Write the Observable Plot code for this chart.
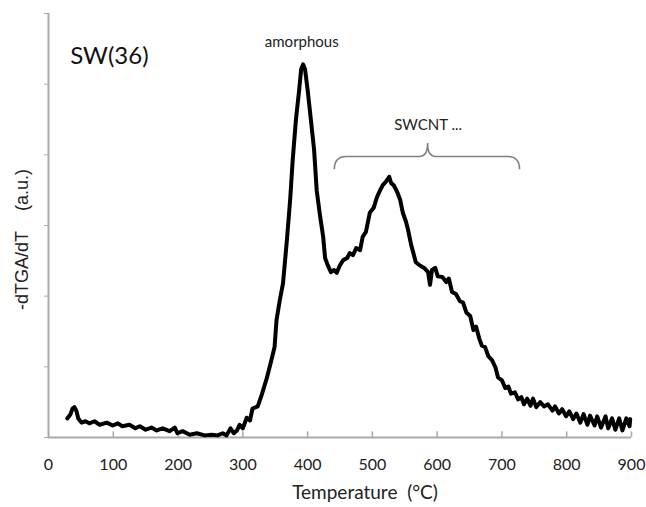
<!DOCTYPE html>
<html>
<head>
<meta charset="utf-8">
<script src="https://cdn.jsdelivr.net/npm/d3@7"></script>
<script src="https://cdn.jsdelivr.net/npm/@observablehq/plot@0.6"></script>
<style>
  html, body { margin: 0; padding: 0; background: #fff; }
  #chart { width: 646px; height: 507px; }
</style>
</head>
<body>
<div id="chart"></div>
<script>
// ---- data ----
const temperature = [29,34,37,40,43,46,51,57,63,71,79,90,99,107,114,125,134,141,150,159,167,176,187,195,199,207,218,229,241,252,261,269,275,281,286,291,295,
  300,306,311,315,323,329,337,345,349,352,357,362,368,373,377,382,387,390,393,396,400,405,410,414,419,424,427,431,436,441,445,450,455,461,465,470,475,481,485,490,496,502,507,512,516,521,526,529,533,538,543,547,552,555,560,563,567,574,580,586,589,592,597,601,608,614,618,623,629,635,640,645,651,656,660,665,669,674,679,685,690,694,700,705,710,714,720,725,730,734,739,744,748,753,759,765,771,778,782,788,793,799,804,810,815,821,826,832,836,843,847,853,860,864,870,875,881,886,892,897,898];
const dtga = [0.27,0.33,0.41,0.43,0.38,0.27,0.21,0.23,0.20,0.23,0.18,0.21,0.17,0.20,0.16,0.18,0.13,0.16,0.11,0.14,0.10,0.13,0.09,0.14,0.06,0.09,0.04,0.06,0.03,0.04,0.03,0.06,0.03,0.13,0.06,0.10,0.18,
  0.13,0.28,0.24,0.41,0.44,0.60,0.84,1.13,1.28,1.66,1.94,2.18,2.79,3.36,3.93,4.50,4.92,5.21,5.28,5.21,4.92,4.50,4.07,3.50,3.15,2.84,2.54,2.44,2.34,2.37,2.33,2.44,2.51,2.54,2.61,2.58,2.68,2.65,2.84,2.91,3.18,3.25,3.40,3.50,3.57,3.62,3.69,3.60,3.57,3.48,3.36,3.18,3.05,2.94,2.72,2.62,2.48,2.43,2.40,2.34,2.16,2.37,2.40,2.28,2.27,2.20,2.25,2.06,2.03,1.93,1.91,1.77,1.72,1.52,1.57,1.40,1.30,1.28,1.15,1.09,0.99,0.85,0.81,0.70,0.72,0.62,0.64,0.54,0.57,0.47,0.55,0.45,0.55,0.43,0.50,0.44,0.47,0.38,0.44,0.34,0.40,0.30,0.37,0.26,0.34,0.21,0.33,0.18,0.31,0.17,0.30,0.14,0.30,0.13,0.27,0.11,0.27,0.10,0.27,0.16,0.26];

const xTicks = [0,100,200,300,400,500,600,700,800,900];
const yTicks = [0,1,2,3,4,5,6];

// annotations
const titleText = ["SW(36)"];
const titleX = [94], titleY = [5.39];
const amorphText = ["amorphous"];
const amorphX = [391], amorphY = [5.59];
const swcntText = ["SWCNT ..."];
const swcntX = [586], swcntY = [4.42];
// curly brace: [left T, middle T, right T], [end y, line y, cusp y]
const braceT = [442, 586, 728];
const braceY = [3.79, 3.97, 4.16];

const xLabel = "Temperature\u00A0\u00A0(°C)";
const yLabel = "-dTGA/dT\u00A0\u00A0\u00A0\u00A0(a.u.)";

const data = temperature.map((t, i) => ({t, v: dtga[i]}));

function braceMark(index, scales) {
  const x = scales.x, y = scales.y;
  const x0 = x(braceT[0]), xm = x(braceT[1]), x1 = x(braceT[2]);
  const ye = y(braceY[0]), yl = y(braceY[1]), yc = y(braceY[2]);
  const r = 12, rm = 8;
  const p = d3.path();
  p.moveTo(x0, ye);
  p.quadraticCurveTo(x0, yl, x0 + r, yl);
  p.lineTo(xm - rm, yl);
  p.quadraticCurveTo(xm, yl, xm, yc);
  p.quadraticCurveTo(xm, yl, xm + rm, yl);
  p.lineTo(x1 - r, yl);
  p.quadraticCurveTo(x1, yl, x1, ye);
  const g = d3.create("svg:path")
    .attr("d", p.toString())
    .attr("fill", "none")
    .attr("stroke", "#808080")
    .attr("stroke-width", 1.6);
  return g.node();
}

const chart = Plot.plot({
  width: 646,
  height: 507,
  marginTop: 13,
  marginBottom: 70,
  marginLeft: 48,
  marginRight: 15,
  style: {fontFamily: "Lato, 'Open Sans', sans-serif", background: "#fff", color: "#222"},
  x: {domain: [0, 900]},
  y: {domain: [0, 6]},
  marks: [
    Plot.axisX({ticks: xTicks, tickSize: 0, tickPadding: 21, fontSize: 16, label: null, tickFormat: d => String(d)}),
    Plot.ruleX(xTicks.slice(1), {y1: 0, y2: 0.08, stroke: "#aaa", strokeWidth: 1.5}),
    Plot.axisY({ticks: yTicks, tickSize: 4, tickFormat: () => "", label: null, stroke: "#aaa"}),
    Plot.ruleY([0], {stroke: "#aaa", strokeWidth: 2}),
    Plot.ruleX([0], {stroke: "#aaa", strokeWidth: 2}),
    Plot.line(data, {x: "t", y: "v", stroke: "#000", strokeWidth: 4, strokeLinejoin: "round", strokeLinecap: "round"}),
    braceMark,
    Plot.text(titleText, {x: titleX, y: titleY, text: d => d, fontSize: 24, fill: "#111"}),
    Plot.text(amorphText, {x: amorphX, y: amorphY, text: d => d, fontSize: 15, fill: "#222"}),
    Plot.text(swcntText, {x: swcntX, y: swcntY, text: d => d, fontSize: 15, fill: "#222"}),
    Plot.text([xLabel], {frameAnchor: "bottom", dx: 25, dy: 61, text: d => d, fontSize: 19, fill: "#222"}),
    Plot.text([yLabel], {frameAnchor: "left", textAnchor: "middle", dx: -26, dy: 14, rotate: -90, text: d => d, fontSize: 18, fill: "#222", fontFamily: "Liberation Sans"})
  ]
});
document.getElementById("chart").appendChild(chart);
</script>
</body>
</html>
